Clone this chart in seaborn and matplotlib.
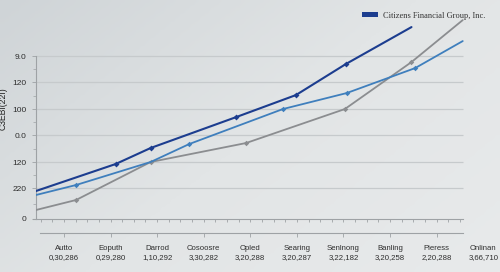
import numpy as np
import pandas as pd
import matplotlib
matplotlib.use('Agg')
import matplotlib.pyplot as plt
from matplotlib.patches import Patch
from matplotlib.ticker import FixedLocator
import seaborn as sns

# categories on the lower axis (name + code line)
categories = ['Autto', 'Eoputh', 'Darrod', 'Cosoosre', 'Opled',
              'Searing', 'Senlnong', 'Banling', 'Pieress', 'Onlinan']
codes = ['0,30,286', '0,29,280', '1,10,292', '3,30,282', '3,20,288',
         '3,20,287', '3,22,182', '3,20,258', '2,20,288', '3,66,710']

# y ticks (positions and the labels printed in the picture)
y_ticks = [0, 31, 57, 84, 110, 137, 163]
y_tick_labels = ['0', '220', '120', '0.0', '100', '120', '9.0']

# series, x in category units
navy_x = [-0.60, 1.11, 1.86, 3.70, 4.98, 6.05, 7.46]
navy_y = [28, 55, 71, 102, 124, 155, 192]

blue_x = [-0.60, 0.26, 1.86, 2.69, 4.70, 6.07, 7.54, 8.56]
blue_y = [24, 34, 57, 75, 110, 126, 151, 178]

gray_x = [-0.60, 0.26, 1.86, 3.91, 6.03, 7.46, 8.56]
gray_y = [9, 19, 57, 76, 110, 157, 199]

legend_label = 'Citizens Financial Group, Inc.'

bg = '#dfe2e4'
grid_c = '#c6cacc'
axis_c = '#9ea2a5'
text_c = '#2e2e2e'

sns.set_theme(style='white')
plt.rcParams['font.family'] = ['Liberation Sans', 'DejaVu Sans']

fig = plt.figure(figsize=(5.0, 2.72), dpi=100, facecolor=bg)

# soft background shading like the photo (darker top left)
bg_ax = fig.add_axes([0, 0, 1, 1], zorder=-10)
gy, gx = np.mgrid[0:1:100j, 0:1:100j]
shade = 0.6 * gx + 0.4 * gy
bg_ax.imshow(shade, cmap=sns.blend_palette(['#cfd4d7', '#e2e5e6', '#e8eaeb'], as_cmap=True),
             aspect='auto', extent=(0, 1, 0, 1), origin='upper')
bg_ax.axis('off')

ax = fig.add_axes([0.072, 0.1949, 0.928, 0.768])
ax.patch.set_alpha(0)

x_left, x_right = -0.60, 9.36
grid_end = 8.56
ax.set_xlim(x_left, x_right)
ax.set_ylim(0, 209)

# horizontal grid lines
ax.hlines(y_ticks[1:], x_left, grid_end, color=grid_c, lw=0.9, zorder=1)

# lines
df_gray = pd.DataFrame({'x': gray_x, 'y': gray_y})
df_blue = pd.DataFrame({'x': blue_x, 'y': blue_y})
df_navy = pd.DataFrame({'x': navy_x, 'y': navy_y})

sns.lineplot(data=df_gray, x='x', y='y', ax=ax, color='#8b8d90', lw=1.3,
             marker='D', markersize=2.8, markevery=[1, 2, 3, 4, 5],
             markeredgewidth=0, zorder=3)
sns.lineplot(data=df_blue, x='x', y='y', ax=ax, color='#3f7fbd', lw=1.3,
             marker='D', markersize=2.8, markevery=[1, 3, 4, 5, 6],
             markeredgewidth=0, zorder=4)
sns.lineplot(data=df_navy, x='x', y='y', ax=ax, color='#1c3d8f', lw=1.5,
             marker='D', markersize=3, markevery=[1, 2, 3, 4, 5],
             markeredgewidth=0, zorder=5)

# spines
for s in ['top', 'right']:
    ax.spines[s].set_visible(False)
ax.spines['left'].set_bounds(0, 163)
ax.spines['left'].set_color(axis_c)
ax.spines['left'].set_linewidth(0.8)
ax.spines['bottom'].set_bounds(-0.66, grid_end)
ax.spines['bottom'].set_color(axis_c)
ax.spines['bottom'].set_linewidth(0.8)

# y axis
ax.yaxis.set_major_locator(FixedLocator(y_ticks))
ax.set_yticklabels(y_tick_labels, fontsize=6, color=text_c)
ax.yaxis.set_minor_locator(FixedLocator([15, 44, 70, 97, 123, 150]))
ax.tick_params(axis='y', which='major', left=True, length=3, width=0.6,
               color=axis_c, pad=4)
ax.tick_params(axis='y', which='minor', left=True, length=2, width=0.5,
               color=axis_c)
ax.set_ylabel('')
ax.set_xlabel('')

# main x axis: only small ticks
ax.xaxis.set_major_locator(FixedLocator([]))
ax.xaxis.set_minor_locator(FixedLocator(np.arange(-0.5, 8.6, 0.25)))
ax.tick_params(axis='x', which='minor', bottom=True, length=2.5, width=0.6,
               color=axis_c)

# secondary axis with category labels
sec = ax.secondary_xaxis(-0.067)
sec.set_xticks(range(len(categories)))
sec.set_xticklabels([f'{c}\n{k}' for c, k in zip(categories, codes)],
                    fontsize=5.6, color=text_c, linespacing=1.45)
sec.tick_params(axis='x', length=3, width=0.6, color=axis_c, pad=5.5)
sec.spines['bottom'].set_bounds(-0.51, grid_end)
sec.spines['bottom'].set_color(axis_c)
sec.spines['bottom'].set_linewidth(0.8)
sec.xaxis.get_major_ticks()[-1].tick1line.set_visible(False)

# y label, cut at the left edge
fig.text(0.006, 0.60, 'C3EBI(22I)', rotation=90, ha='center', va='center',
         fontsize=6.2, color='#222222')

# legend
handle = Patch(facecolor='#1c3d8f', edgecolor='none')
fig.legend([handle], [legend_label], loc='upper right',
           bbox_to_anchor=(0.985, 0.985), frameon=False,
           prop={'family': 'Liberation Serif', 'size': 6},
           handlelength=2.0, handleheight=0.55, handletextpad=0.5,
           labelcolor='#333333')

fig.savefig('out.png', dpi=100, facecolor=bg)
